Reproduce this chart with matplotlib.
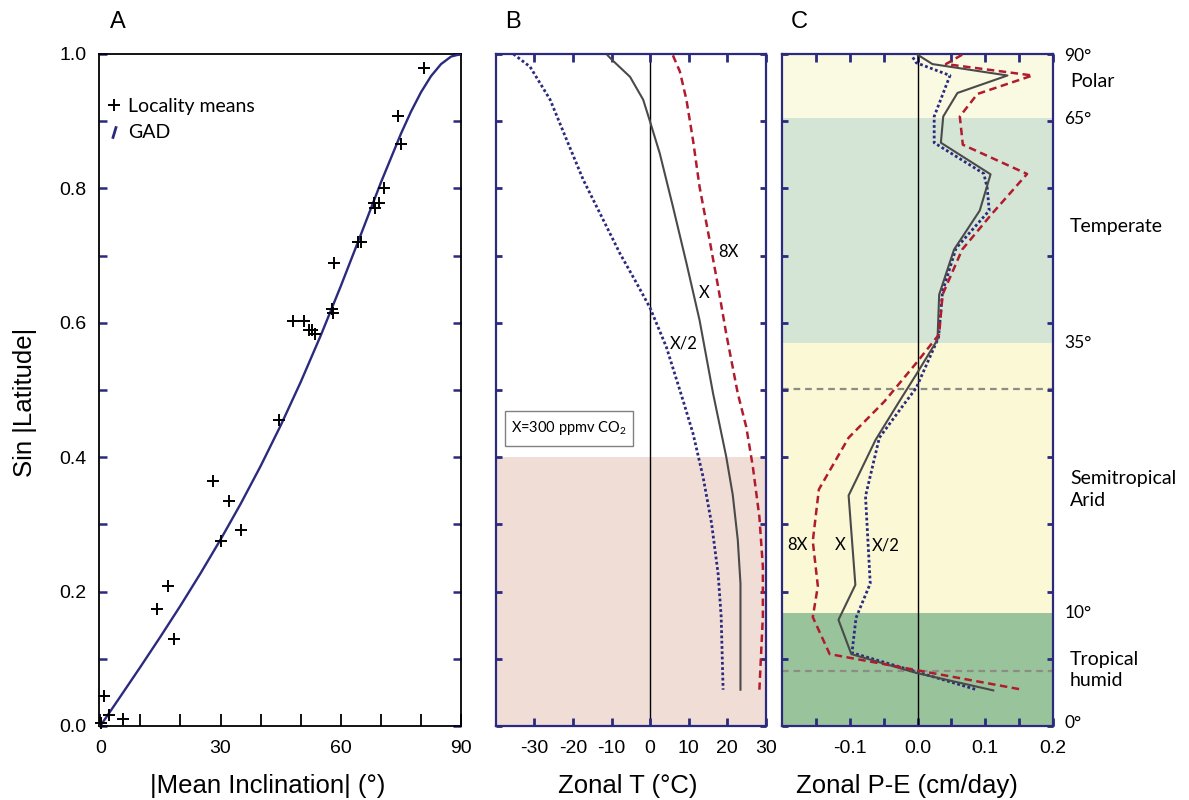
import matplotlib
matplotlib.use('Agg')
import matplotlib.pyplot as plt
from matplotlib.lines import Line2D
from matplotlib.patches import Rectangle
from matplotlib.ticker import MultipleLocator

# panel A: GAD curve and locality means
gad_incl = [0, 2.5, 5, 10, 15, 20, 25, 30, 35, 40, 45, 50, 55, 60, 65, 70, 75, 77.5, 80, 82.5, 85, 87.5, 90]
gad_sinlat = [0, 0.0218, 0.0437, 0.0878, 0.1328, 0.179, 0.2271, 0.2774, 0.3304, 0.3868, 0.4472, 0.5119,
              0.5812, 0.6547, 0.7313, 0.8088, 0.8814, 0.9142, 0.9431, 0.9671, 0.9850, 0.9962, 1.0]

loc_incl = [80.7, 74.2, 75.0, 70.7, 68.4, 69.6, 68.6, 64.2, 65.1, 58.2, 57.8, 58.0, 48.0, 50.7, 52.0,
            52.7, 53.5, 44.7, 28.1, 32.1, 35.1, 30.0, 16.9, 14.1, 18.5, 1.0, 2.1, 5.6, 0.3]
loc_sinlat = [0.979, 0.907, 0.866, 0.800, 0.779, 0.779, 0.771, 0.720, 0.720, 0.689, 0.620, 0.615, 0.603,
              0.603, 0.589, 0.589, 0.583, 0.455, 0.364, 0.335, 0.292, 0.275, 0.208, 0.174, 0.129, 0.045,
              0.016, 0.011, 0.004]

# panel B: zonal temperature
t_x_s = [0.998, 0.992, 0.966, 0.932, 0.899, 0.852, 0.773, 0.689, 0.604, 0.495, 0.401, 0.344, 0.277, 0.212, 0.054]
t_x = [-11.0, -10.0, -5.2, -1.8, 0.0, 2.5, 5.9, 9.4, 12.8, 16.3, 19.7, 21.4, 22.7, 23.4, 23.4]

t_half_s = [1.0, 0.981, 0.932, 0.872, 0.8125, 0.763, 0.703, 0.659, 0.622, 0.564, 0.485, 0.4355, 0.371,
            0.302, 0.227, 0.163, 0.054]
t_half = [-35.4, -31.1, -25.9, -21.6, -17.3, -13.0, -7.8, -3.5, 0.0, 4.2, 8.5, 11.1, 13.7, 15.9, 17.6, 18.4, 18.9]

t_8x_s = [0.998, 0.974, 0.932, 0.872, 0.8025, 0.723, 0.654, 0.584, 0.495, 0.445, 0.386, 0.311, 0.237, 0.163, 0.054]
t_8x = [5.9, 7.7, 9.4, 11.1, 12.8, 15.4, 17.6, 19.7, 22.7, 24.9, 26.6, 28.3, 29.2, 29.2, 28.3]

# panel C: zonal P-E
pe_x_s = [0.999, 0.985, 0.968, 0.942, 0.907, 0.868, 0.821, 0.767, 0.709, 0.642, 0.575, 0.523, 0.483,
          0.426, 0.343, 0.210, 0.158, 0.107, 0.079, 0.053]
pe_x = [0.0, 0.022, 0.133, 0.059, 0.038, 0.0345, 0.108, 0.092, 0.054, 0.032, 0.0295, -0.002, -0.027,
        -0.062, -0.102, -0.092, -0.117, -0.098, -0.002, 0.112]

pe_half_s = [0.995, 0.987, 0.968, 0.907, 0.868, 0.822, 0.801, 0.767, 0.711, 0.647, 0.578, 0.503, 0.483,
             0.429, 0.342, 0.212, 0.161, 0.109, 0.054]
pe_half = [-0.007, -0.002, 0.048, 0.0246, 0.0246, 0.098, 0.103, 0.106, 0.057, 0.037, 0.031, -0.002,
           -0.017, -0.0565, -0.077, -0.070, -0.091, -0.097, 0.0876]

pe_8x_s = [0.999, 0.985, 0.968, 0.9405, 0.907, 0.865, 0.8215, 0.761, 0.709, 0.642, 0.583, 0.540, 0.483,
           0.429, 0.352, 0.275, 0.208, 0.162, 0.107, 0.0545]
pe_8x = [0.066, 0.042, 0.170, 0.0885, 0.0625, 0.067, 0.162, 0.109, 0.066, 0.037, 0.032, -0.002, -0.049,
         -0.102, -0.146, -0.155, -0.1475, -0.155, -0.130, 0.1525]

band_edges = [0, 0.168, 0.570, 0.905, 1.0]
band_colors = ['#99c39b', '#fbf8d6', '#d5e5d5', '#fafae3']
zone_names = ['Tropical\nhumid', 'Semitropical\nArid', 'Temperate', 'Polar']
zone_y = [0.083, 0.352, 0.744, 0.959]
lat_labels = ['0°', '10°', '35°', '65°', '90°']
lat_y = [0.004, 0.168, 0.570, 0.903, 0.997]
dashed_y = [0.502, 0.082]

navy = '#2b2a7e'
red = '#b01c2e'
gray = '#4a4a4a'

plt.rcParams['font.family'] = ['Liberation Sans', 'DejaVu Sans']
plt.rcParams['mathtext.default'] = 'regular'
side_font = ['Lato', 'DejaVu Sans']

fig = plt.figure(figsize=(11.89, 8), dpi=100)
ax_a = fig.add_axes([0.0833, 0.0925, 0.3045, 0.84])
ax_b = fig.add_axes([0.4169, 0.0925, 0.2273, 0.84])
ax_c = fig.add_axes([0.658, 0.0925, 0.2274, 0.84])

# ---- A ----
ax_a.plot(gad_incl, gad_sinlat, color=navy, lw=1.7, zorder=3)
ax_a.plot(loc_incl, loc_sinlat, ls='none', marker='+', ms=9, mew=1.4, color='black', clip_on=False, zorder=4)
ax_a.set_xlim(-0.3, 90)
ax_a.set_ylim(0, 1)
ax_a.xaxis.set_major_locator(MultipleLocator(30))
ax_a.xaxis.set_minor_locator(MultipleLocator(10))
ax_a.yaxis.set_major_locator(MultipleLocator(0.2))
ax_a.yaxis.set_minor_locator(MultipleLocator(0.1))
ax_a.yaxis.set_major_formatter('{x:.1f}')
ax_a.tick_params(axis='x', which='both', direction='in', length=9, width=1.3, color='black',
                 labelsize=14, pad=10)
ax_a.tick_params(axis='y', which='both', direction='in', length=6, width=1.8, color=navy,
                 left=True, right=True, labelsize=14, pad=9)
for sp in ax_a.spines.values():
    sp.set_linewidth(1.3)

handles = [Line2D([], [], ls='none', marker='+', ms=9, mew=1.4, color='black'),
           Line2D([], [], ls='none', marker=[(-0.3, -1), (0.3, 1)], ms=9, mew=2, color=navy)]
ax_a.legend(handles, ['Locality means', 'GAD'], loc='upper left', bbox_to_anchor=(-0.024, 0.961),
            frameon=False, handlelength=0.6, handletextpad=0.45, labelspacing=0.5,
            prop={'family': side_font, 'size': 14})

# ---- B ----
ax_b.axhspan(0, 0.4, color='#f0ded6', lw=0, zorder=0)
ax_b.axvline(0, color='black', lw=1, zorder=1)
ax_b.plot(t_half, t_half_s, color=navy, lw=2.0, ls=(0, (1.0, 0.9)), zorder=3)
ax_b.plot(t_x, t_x_s, color=gray, lw=1.5, zorder=3)
ax_b.plot(t_8x, t_8x_s, color=red, lw=1.8, ls=(0, (3, 1.8)), zorder=3)
ax_b.set_xlim(-40, 30)
ax_b.set_ylim(0, 1)
ax_b.set_xticks([-30, -20, -10, 0, 10, 20, 30])
ax_b.set_xticklabels(['-30', '-20', '-10', '0', '10', '20', '30'])
ax_b.yaxis.set_major_locator(MultipleLocator(0.1))
ax_b.tick_params(axis='x', direction='in', length=6, width=2, color=navy, top=True,
                 labelsize=14, pad=10)
ax_b.tick_params(axis='y', direction='in', length=4, width=2, color=navy, left=True, right=True,
                 labelleft=False)
ax_b.text(20.2, 0.705, '8X', ha='center', va='center', fontsize=12, family=side_font)
ax_b.text(13.9, 0.644, 'X', ha='center', va='center', fontsize=12, family=side_font)
ax_b.text(8.7, 0.569, 'X/2', ha='center', va='center', fontsize=12, family=side_font)
ax_b.add_patch(Rectangle((-37.7, 0.4167), 33.2, 0.0523, fill=False, ec='#808080', lw=1, zorder=4))
ax_b.text(-21.1, 0.443, 'X=300 ppmv CO$_2$', ha='center', va='center', fontsize=10.5,
          family=side_font, zorder=5)

# ---- C ----
for i in range(len(band_colors)):
    ax_c.axhspan(band_edges[i], band_edges[i + 1], color=band_colors[i], lw=0, zorder=0)
for yv in dashed_y:
    ax_c.axhline(yv, color='#8c8c84', lw=1.6, ls=(0, (3, 2.2)), zorder=1)
ax_c.axvline(0, color='black', lw=1, zorder=2)
ax_c.plot(pe_half, pe_half_s, color=navy, lw=2.0, ls=(0, (1.0, 0.9)), zorder=3)
ax_c.plot(pe_x, pe_x_s, color=gray, lw=1.5, zorder=3)
ax_c.plot(pe_8x, pe_8x_s, color=red, lw=1.8, ls=(0, (3, 1.8)), zorder=3)
ax_c.set_xlim(-0.2, 0.2)
ax_c.set_ylim(0, 1)
ax_c.set_xticks([-0.1, 0.0, 0.1, 0.2])
ax_c.set_xticklabels(['-0.1', '0.0', '0.1', '0.2'])
ax_c.set_xticks([-0.15, -0.05, 0.05, 0.15], minor=True)
ax_c.yaxis.set_major_locator(MultipleLocator(0.1))
ax_c.tick_params(axis='x', which='both', direction='in', length=6, width=2, color=navy, top=True,
                 labelsize=14, pad=10)
ax_c.tick_params(axis='y', direction='in', length=4, width=2, color=navy, left=True, right=True,
                 labelleft=False)
ax_c.text(-0.178, 0.269, '8X', ha='center', va='center', fontsize=12, family=side_font)
ax_c.text(-0.114, 0.269, 'X', ha='center', va='center', fontsize=12, family=side_font)
ax_c.text(-0.047, 0.269, 'X/2', ha='center', va='center', fontsize=12, family=side_font)

tr = ax_c.get_yaxis_transform()
for name, yv in zip(zone_names, zone_y):
    ax_c.text(1.064, yv, name, transform=tr, ha='left', va='center', fontsize=14,
              family=side_font, linespacing=1.3)
for lab, yv in zip(lat_labels, lat_y):
    ax_c.text(1.043, yv, lab, transform=tr, ha='left', va='center', fontsize=12.5, family=side_font)

for ax in (ax_b, ax_c):
    for sp in ax.spines.values():
        sp.set_color(navy)
        sp.set_linewidth(1.6)

# labels
fig.text(118 / 1189, 1 - 22 / 800, 'A', ha='center', va='center', fontsize=17)
fig.text(513 / 1189, 1 - 22 / 800, 'B', ha='center', va='center', fontsize=17)
fig.text(799 / 1189, 1 - 22 / 800, 'C', ha='center', va='center', fontsize=17)
fig.text(25 / 1189, 1 - 402 / 800, 'Sin |Latitude|', rotation=90, ha='center', va='center', fontsize=18.5)
fig.text(268 / 1189, 1 - 793 / 800, '|Mean Inclination| (°)', ha='center', va='baseline', fontsize=18.5)
fig.text(628 / 1189, 1 - 793 / 800, 'Zonal T (°C)', ha='center', va='baseline', fontsize=18.5)
fig.text(907 / 1189, 1 - 793 / 800, 'Zonal P-E (cm/day)', ha='center', va='baseline', fontsize=18.5)

plt.savefig('out.png', dpi=100)
